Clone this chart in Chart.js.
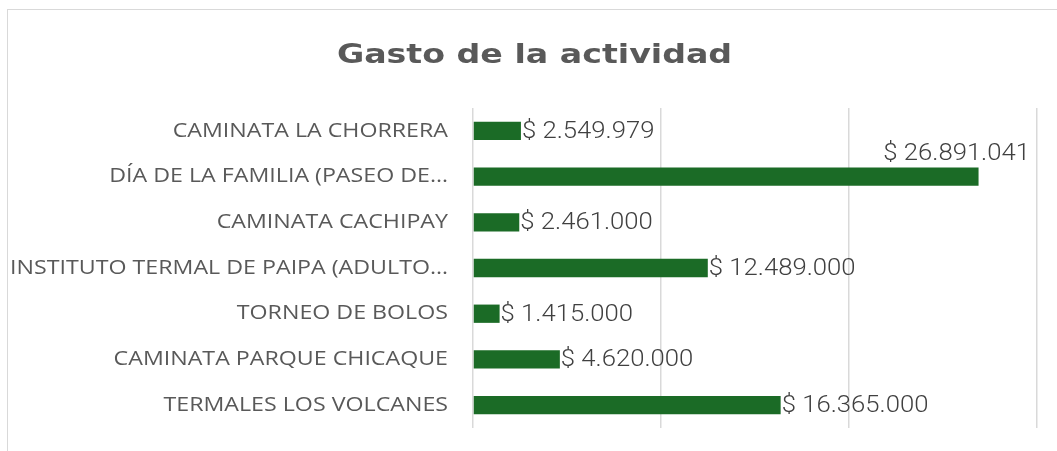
<!DOCTYPE html>
<html>
<head>
<meta charset="utf-8">
<script src="https://cdn.jsdelivr.net/npm/chart.js@4/dist/chart.umd.min.js"></script>
<style>
  body { margin: 0; background: #fff; }
  #frame {
    position: absolute; left: 7px; top: 9px; right: 0; bottom: 0;
    border-left: 1px solid #d9d9d9; border-top: 1px solid #d9d9d9;
  }
  #wrap { position: absolute; left: 0; top: 0; width: 1057px; height: 451px; }
</style>
</head>
<body>
<div id="frame"></div>
<div id="wrap"><canvas id="chart"></canvas></div>
<script>
const activities = [
  "CAMINATA LA CHORRERA",
  "DÍA DE LA FAMILIA (PASEO DE…",
  "CAMINATA CACHIPAY",
  "INSTITUTO TERMAL DE PAIPA (ADULTO…",
  "TORNEO DE BOLOS",
  "CAMINATA PARQUE CHICAQUE",
  "TERMALES LOS VOLCANES"
];
const spending = [2549979, 26891041, 2461000, 12489000, 1415000, 4620000, 16365000];

const fmt = (v) => "$ " + v.toString().replace(/\B(?=(\d{3})+(?!\d))/g, ".");

// the original font (Century Gothic) is much wider, so stretch the text sideways
function stretch(obj, fn, ctx, anchor, sx, dx) {
  if (obj._stretched) return;
  const orig = obj[fn].bind(obj);
  obj[fn] = function (...args) {
    const ax = anchor();
    ctx.save();
    ctx.translate(ax + dx, 0);
    ctx.scale(sx, 1);
    ctx.translate(-ax, 0);
    orig(...args);
    ctx.restore();
  };
  obj._stretched = true;
}

const wideText = {
  id: "wideText",
  afterLayout(chart) {
    const y = chart.scales.y;
    stretch(y, "drawLabels", chart.ctx, () => y.right - y.options.ticks.padding, 1.16, 0);
    const t = chart.titleBlock;
    if (t) stretch(t, "draw", chart.ctx, () => (t.left + t.right) / 2, 1.23, 16);
  }
};

// value labels at the end of each bar, the long one goes above
const barLabels = {
  id: "barLabels",
  afterDatasetsDraw(chart) {
    const ctx = chart.ctx;
    const meta = chart.getDatasetMeta(0);
    const area = chart.chartArea;
    const sx = 1.07;
    ctx.save();
    ctx.font = "300 24px Roboto";
    ctx.fillStyle = "#404040";
    ctx.textBaseline = "middle";
    meta.data.forEach((bar, i) => {
      const txt = fmt(spending[i]);
      const w = ctx.measureText(txt).width * sx;
      let x = bar.x + 1, y = bar.y + 1;
      if (bar.x + 4 + w > area.right) {
        x = area.right - 7 - w;
        y = bar.y - 23;
      }
      ctx.save();
      ctx.translate(x, y);
      ctx.scale(sx, 1);
      ctx.textAlign = "left";
      ctx.fillText(txt, 0, 0);
      ctx.restore();
    });
    ctx.restore();
  }
};

new Chart(document.getElementById("chart"), {
  type: "bar",
  data: {
    labels: activities,
    datasets: [{
      data: spending,
      backgroundColor: "#1b6b26",
      categoryPercentage: 1,
      barPercentage: 0.4
    }]
  },
  options: {
    indexAxis: "y",
    responsive: true,
    maintainAspectRatio: false,
    animation: false,
    layout: { padding: { top: 0, right: 20, bottom: 23, left: 0 } },
    plugins: {
      legend: { display: false },
      tooltip: { enabled: false },
      title: {
        display: true,
        text: "Gasto de la actividad",
        color: "#595959",
        font: { family: "'DejaVu Sans'", size: 27, weight: "bold" },
        padding: { top: 40, bottom: 35.6 }
      }
    },
    scales: {
      x: {
        min: 0,
        max: 30000000,
        ticks: { display: false, stepSize: 10000000 },
        border: { display: false },
        grid: { color: "#d9d9d9", lineWidth: 1.5, drawTicks: false },
        afterFit(scale) { scale.height = 0; }
      },
      y: {
        ticks: {
          color: "#595959",
          font: { family: "'Open Sans'", size: 20 },
          padding: 25
        },
        grid: { display: false, drawTicks: false },
        border: { display: false },
        afterFit(scale) {
          scale.width = 473;
          scale.paddingTop = 0;
          scale.paddingBottom = 0;
        }
      }
    }
  },
  plugins: [wideText, barLabels]
});
</script>
</body>
</html>
